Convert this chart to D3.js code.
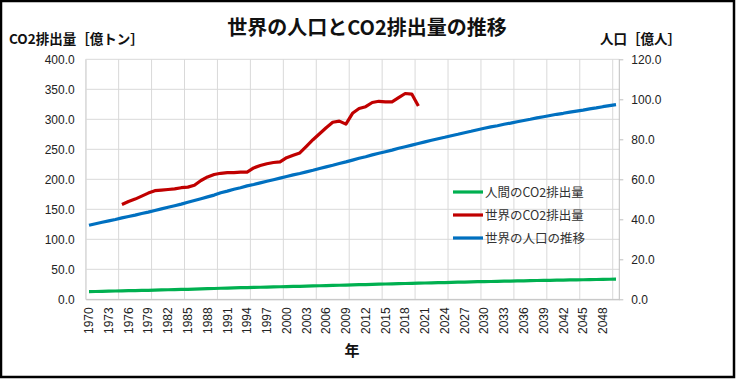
<!DOCTYPE html>
<html>
<head>
<meta charset="utf-8">
<script src="https://cdn.jsdelivr.net/npm/d3@7"></script>
<style>
  body { margin: 0; background: #fff; }
  svg { display: block; }
  text { font-family: "Noto Sans CJK JP", "Noto Sans", sans-serif; }
  .tick-num { font-family: "Liberation Sans", "Noto Sans", sans-serif; }
</style>
</head>
<body>
<div id="chart"></div>
<script>
// 年（1970〜2050）
const years = d3.range(1970, 2051);

// 世界のCO2排出量 [億トン] 1975〜2020
const co2Years = d3.range(1975, 2021);
const co2World = [
  158, 163, 167, 172, 177, 181, 182, 183, 184, 186,
  187, 190, 198, 204, 208, 210, 211, 211, 212, 212,
  219, 223, 226, 228, 229, 236, 240, 244, 255, 266,
  276, 286, 295, 297, 292, 310, 318, 321, 328, 330,
  329, 329, 336, 343, 342, 322
];

// 世界の人口 [億人] 1970〜2050
const population = [
  37.0, 37.8, 38.5, 39.2, 39.9, 40.7, 41.4, 42.1, 42.9, 43.6,
  44.4, 45.2, 46.0, 46.8, 47.6, 48.5, 49.4, 50.3, 51.2, 52.1,
  53.3, 54.1, 55.0, 55.8, 56.7, 57.4, 58.2, 59.0, 59.8, 60.6,
  61.4, 62.2, 62.9, 63.7, 64.5, 65.4, 66.2, 67.0, 67.9, 68.7,
  69.6, 70.5, 71.3, 72.2, 73.0, 73.8, 74.6, 75.5, 76.3, 77.1,
  77.9, 78.7, 79.5, 80.3, 81.0, 81.8, 82.5, 83.3, 84.0, 84.8,
  85.5, 86.2, 86.8, 87.5, 88.1, 88.8, 89.4, 90.0, 90.7, 91.3,
  91.9, 92.5, 93.0, 93.6, 94.1, 94.6, 95.2, 95.7, 96.3, 96.8,
  97.3
];

// 人間のCO2排出量 [億トン] 1970〜2050
const co2Human = [
  12.8, 13.0, 13.3, 13.5, 13.8, 14.0, 14.3, 14.5, 14.8, 15.0,
  15.3, 15.6, 15.9, 16.1, 16.4, 16.7, 17.0, 17.4, 17.7, 18.0,
  18.4, 18.7, 19.0, 19.3, 19.6, 19.8, 20.1, 20.4, 20.6, 20.9,
  21.2, 21.5, 21.7, 22.0, 22.3, 22.6, 22.8, 23.1, 23.4, 23.7,
  24.0, 24.3, 24.6, 24.9, 25.2, 25.5, 25.7, 26.0, 26.3, 26.6,
  26.9, 27.2, 27.4, 27.7, 27.9, 28.2, 28.5, 28.7, 29.0, 29.3,
  29.5, 29.7, 29.9, 30.2, 30.4, 30.6, 30.8, 31.1, 31.3, 31.5,
  31.7, 31.9, 32.1, 32.3, 32.5, 32.6, 32.8, 33.0, 33.2, 33.4,
  33.6
];

const leftTicks = [0, 50, 100, 150, 200, 250, 300, 350, 400];
const rightTicks = [0, 20, 40, 60, 80, 100, 120];
const xLabelYears = years.filter((y, i) => i % 3 === 0);
const gridYears = years.filter((y, i) => i % 5 === 0);

const legendItems = [
  { label: '人間のCO2排出量', color: '#00B050' },
  { label: '世界のCO2排出量', color: '#C00000' },
  { label: '世界の人口の推移', color: '#0070C0' }
];

const W = 736, H = 379;
const plot = { left: 85.7, right: 619.3, top: 59.3, bottom: 299.3 };

const svg = d3.select('#chart').append('svg')
  .attr('width', W)
  .attr('height', H);

// outer frame
svg.append('rect')
  .attr('x', 1).attr('y', 1)
  .attr('width', W - 3).attr('height', H - 3)
  .attr('fill', '#fff')
  .attr('stroke', '#000')
  .attr('stroke-width', 2.5);

const x = d3.scaleBand()
  .domain(years)
  .range([plot.left, plot.right])
  .padding(0);

const yL = d3.scaleLinear().domain([0, 400]).range([plot.bottom, plot.top]);
const yR = d3.scaleLinear().domain([0, 120]).range([plot.bottom, plot.top]);

const cx = yr => x(yr) + x.bandwidth() / 2;

// horizontal gridlines
svg.append('g')
  .selectAll('line')
  .data(leftTicks)
  .enter()
  .append('line')
  .attr('x1', plot.left).attr('x2', plot.right)
  .attr('y1', d => yL(d)).attr('y2', d => yL(d))
  .attr('stroke', '#d9d9d9')
  .attr('stroke-width', 1);

// vertical gridlines (every 5 categories)
svg.append('g')
  .selectAll('line')
  .data(gridYears)
  .enter()
  .append('line')
  .attr('x1', d => x(d)).attr('x2', d => x(d))
  .attr('y1', plot.top).attr('y2', plot.bottom)
  .attr('stroke', '#d9d9d9')
  .attr('stroke-width', 1);

// right axis line + ticks
const rightAxis = svg.append('g')
  .attr('transform', `translate(${plot.right},0)`)
  .call(d3.axisRight(yR).tickValues(rightTicks).tickSize(4).tickPadding(8).tickFormat(d3.format('.1f')));
rightAxis.select('.domain').attr('stroke', '#bfbfbf').attr('d', `M0,${plot.top}V${plot.bottom}`);
rightAxis.selectAll('.tick line').attr('stroke', '#bfbfbf');
rightAxis.selectAll('text')
  .attr('class', 'tick-num')
  .style('font-size', '12px')
  .attr('fill', '#222');

// left axis labels
const leftAxis = svg.append('g')
  .attr('transform', `translate(${plot.left},0)`)
  .call(d3.axisLeft(yL).tickValues(leftTicks).tickSize(0).tickPadding(11).tickFormat(d3.format('.1f')));
leftAxis.select('.domain').attr('stroke', '#d9d9d9');
leftAxis.selectAll('text')
  .attr('class', 'tick-num')
  .style('font-size', '12px')
  .attr('fill', '#222');

// bottom axis
const bottomAxis = svg.append('g')
  .attr('transform', `translate(0,${plot.bottom})`)
  .call(d3.axisBottom(x).tickValues(xLabelYears).tickSize(0).tickPadding(0));
bottomAxis.select('.domain').attr('stroke', '#bfbfbf');
bottomAxis.selectAll('text')
  .attr('class', 'tick-num')
  .attr('transform', 'rotate(-90)')
  .attr('x', -8)
  .attr('y', 0)
  .attr('dy', '0.35em')
  .style('text-anchor', 'end')
  .style('font-size', '12px')
  .attr('fill', '#222');

// lines
const lineL = d3.line().x(d => cx(d.year)).y(d => yL(d.value));
const lineR = d3.line().x(d => cx(d.year)).y(d => yR(d.value));

svg.append('path')
  .datum(years.map((yr, i) => ({ year: yr, value: co2Human[i] })))
  .attr('fill', 'none')
  .attr('stroke', '#00B050')
  .attr('stroke-width', 3.2)
  .attr('stroke-linejoin', 'round')
  .attr('d', lineL);

svg.append('path')
  .datum(years.map((yr, i) => ({ year: yr, value: population[i] })))
  .attr('fill', 'none')
  .attr('stroke', '#0070C0')
  .attr('stroke-width', 3.2)
  .attr('stroke-linejoin', 'round')
  .attr('d', lineR);

svg.append('path')
  .datum(co2Years.map((yr, i) => ({ year: yr, value: co2World[i] })))
  .attr('fill', 'none')
  .attr('stroke', '#C00000')
  .attr('stroke-width', 3.2)
  .attr('stroke-linejoin', 'round')
  .attr('d', lineL);

// legend
const legend = svg.append('g').attr('transform', 'translate(453,192)');
legendItems.forEach((item, i) => {
  const row = legend.append('g').attr('transform', `translate(0,${i * 23})`);
  row.append('line')
    .attr('x1', 0).attr('x2', 30)
    .attr('stroke', item.color)
    .attr('stroke-width', 3.2);
  row.append('text')
    .attr('x', 32)
    .attr('y', 0)
    .attr('dy', '0.36em')
    .style('font-size', '12.5px')
    .attr('fill', '#333')
    .text(item.label);
});

// titles
svg.append('text')
  .attr('x', 367).attr('y', 35)
  .attr('text-anchor', 'middle')
  .style('font-size', '20px')
  .style('font-weight', 'bold')
  .attr('fill', '#111')
  .text('世界の人口とCO2排出量の推移');

svg.append('text')
  .attr('x', 9).attr('y', 44)
  .style('font-size', '13.5px')
  .style('font-weight', 'bold')
  .attr('fill', '#111')
  .text('CO2排出量［億トン］');

svg.append('text')
  .attr('x', 600).attr('y', 44)
  .style('font-size', '13.5px')
  .style('font-weight', 'bold')
  .attr('fill', '#111')
  .text('人口［億人］');

svg.append('text')
  .attr('x', 352).attr('y', 356)
  .attr('text-anchor', 'middle')
  .style('font-size', '15px')
  .style('font-weight', 'bold')
  .attr('fill', '#111')
  .text('年');
</script>
</body>
</html>
